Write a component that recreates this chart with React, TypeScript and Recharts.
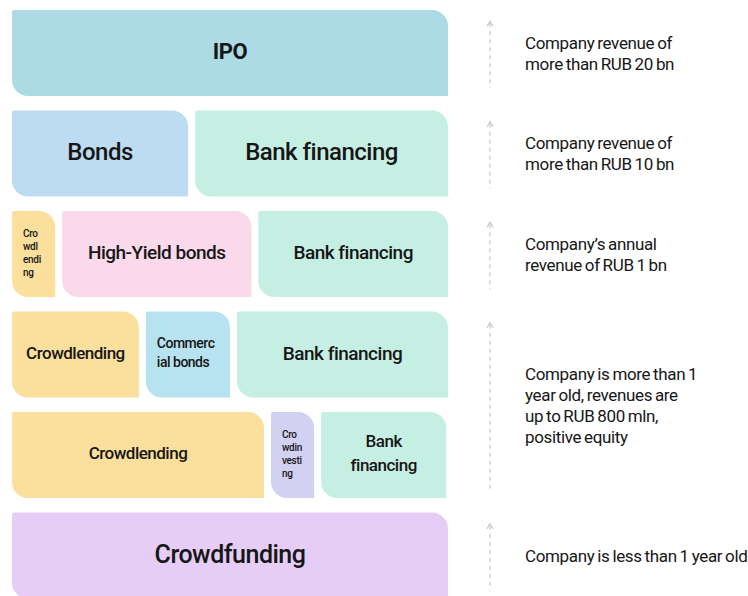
import { Bar, BarChart, LabelList, XAxis, YAxis } from "recharts";

// one row per stage, bottom of the ladder is the youngest company
const levels = ["ipo", "bonds", "highYield", "commercial", "crowdinvesting", "crowdfunding"];

// share of the row width (percent) taken by each block, left to right
const firstShare = [100, 42, 11.5, 30.7, 59.4, 100];
const secondShare = [0, 58, 45, 20.9, 11.5, 0];
const thirdShare = [0, 0, 43.5, 48.4, 28.7, 0];

const firstName = ["IPO", "Bonds", "Cro\nwdl\nendi\nng", "Crowdlending", "Crowdlending", "Crowdfunding"];
const secondName = ["", "Bank financing", "High-Yield bonds", "Commerc\nial bonds", "Cro\nwdin\nvesti\nng", ""];
const thirdName = ["", "", "Bank financing", "Bank financing", "Bank\nfinancing", ""];

const conditions = [
  "Company revenue of\nmore than RUB 20 bn",
  "Company revenue of\nmore than RUB 10 bn",
  "Company’s annual\nrevenue of RUB 1 bn",
  "Company is more than 1\nyear old, revenues are\nup to RUB 800 mln,\npositive equity",
  "",
  "Company is less than 1 year old",
];
// how many rows each condition covers
const conditionSpan = [1, 1, 1, 2, 0, 1];

const data = levels.map((level, i) => ({
  level,
  a: firstShare[i],
  b: secondShare[i],
  c: thirdShare[i],
  aName: firstName[i],
  bName: secondName[i],
  cName: thirdName[i],
}));

const keys = ["a", "b", "c"];
const colors = [
  ["#acdbe5"],
  ["#bddbf1", "#c6efe3"],
  ["#fbdf9d", "#f9d9ea", "#c6efe3"],
  ["#fbdf9d", "#b7e2ef", "#c6efe3"],
  ["#fbdf9d", "#d3d1f2", "#c6efe3"],
  ["#e6cdf6"],
];
const fontSizes = [[22], [24, 24], [10, 19, 19], [17, 14, 19], [17, 10, 17], [25]];

const W = 748;
const H = 606;
const MARGIN = { top: 3, right: 0, bottom: 0, left: 12 };
const BAND = (H - MARGIN.top - MARGIN.bottom) / levels.length;
const GAP = 7;
const FONT = "Roboto, 'Noto Sans', sans-serif";

const isLast = (i: number, seg: number) => keys.slice(seg + 1).every((k) => !(data[i] as any)[k]);

function leafPath(x: number, y: number, w: number, h: number) {
  const r = Math.min(16, w / 2);
  const s = 2;
  return `M${x},${y + s} Q${x},${y} ${x + s},${y} L${x + w - r},${y} A${r},${r} 0 0 1 ${x + w},${y + r} L${x + w},${y + h} L${x + r},${y + h} A${r},${r} 0 0 1 ${x},${y + h - r} Z`;
}

const makeShape = (seg: number) => (props: any) => {
  const { x, y, width, height, index } = props;
  if (!width || width <= 0) return <g />;
  const w = isLast(index, seg) ? width : width - GAP;
  return <path d={leafPath(x, y, w, height)} fill={colors[index][seg]} />;
};

const makeLabel = (seg: number) => (props: any) => {
  const { x, y, width, height, index, value } = props;
  if (!value || !width) return null;
  const w = isLast(index, seg) ? width : width - GAP;
  const size = fontSizes[index][seg];
  const lines = String(value).split("\n");
  const lh = size < 12 ? 13 : size * 1.4;
  const left = w < 100;
  const tx = left ? x + 11 : x + w / 2;
  const y0 = y + height / 2 - 2 - ((lines.length - 1) * lh) / 2;
  return (
    <text
      x={tx}
      y={y0}
      textAnchor={left ? "start" : "middle"}
      dominantBaseline="central"
      fontFamily={FONT}
      fontSize={size}
      fontWeight={index === 0 ? 700 : 500}
      letterSpacing={size > 12 ? -0.5 : -0.3}
      fill="#161616"
    >
      {lines.map((l, k) => (
        <tspan key={k} x={tx} y={y0 + k * lh}>
          {l}
        </tspan>
      ))}
    </text>
  );
};

const ConditionTick = (props: any) => {
  const { x, y, index } = props;
  const span = conditionSpan[index];
  if (!span) return <g />;
  const ax = x + 42;
  const top = y - 32;
  const bottom = y + (span - 1) * BAND + 35;
  const lines = conditions[index].split("\n");
  const lh = 21;
  const cy = y + ((span - 1) * BAND) / 2;
  const y0 = cy - ((lines.length - 1) * lh) / 2;
  const tx = x + 77;
  return (
    <g>
      <line x1={ax} y1={top + 2} x2={ax} y2={bottom} stroke="#d4d4d4" strokeWidth={1.5} strokeDasharray="4 4" />
      <path d={`M${ax - 3},${top + 5} L${ax},${top} L${ax + 3},${top + 5}`} fill="none" stroke="#c8c8c8" strokeWidth={1.3} />
      <text
        x={tx}
        y={y0}
        dominantBaseline="central"
        fontFamily={FONT}
        fontSize={17}
        letterSpacing={-0.35}
        wordSpacing={-1}
        fill="#161616"
      >
        {lines.map((l, k) => (
          <tspan key={k} x={tx} y={y0 + k * lh}>
            {l}
          </tspan>
        ))}
      </text>
    </g>
  );
};

export default function App() {
  return (
    <div style={{ position: "absolute", left: 0, top: 0, width: W, height: 596, overflow: "hidden", background: "#fff" }}>
      <BarChart width={W} height={H} data={data} layout="vertical" margin={MARGIN} barSize={86}>
        <XAxis type="number" domain={[0, 100]} hide />
        <YAxis
          type="category"
          dataKey="level"
          orientation="right"
          width={300}
          axisLine={false}
          tickLine={false}
          tickSize={0}
          tickMargin={0}
          tick={<ConditionTick />}
          interval={0}
        />
        {keys.map((k, seg) => (
          <Bar key={k} dataKey={k} stackId="row" shape={makeShape(seg)} isAnimationActive={false}>
            <LabelList dataKey={`${k}Name`} content={makeLabel(seg)} />
          </Bar>
        ))}
      </BarChart>
    </div>
  );
}
